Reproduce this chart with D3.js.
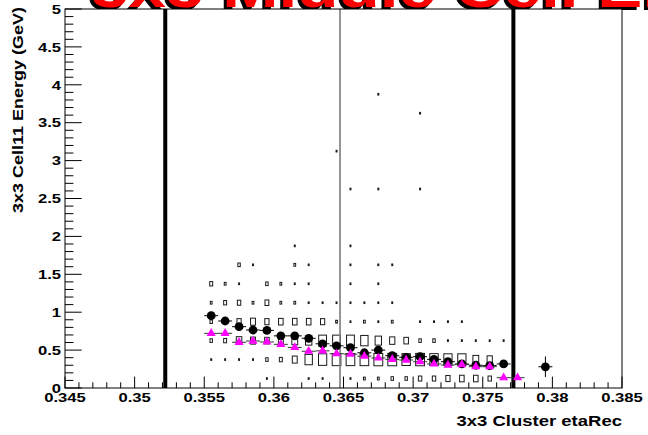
<!DOCTYPE html>
<html><head><meta charset="utf-8">
<script src="https://cdn.jsdelivr.net/npm/d3@7"></script>
<style>body{margin:0;background:#fff;overflow:hidden}svg{display:block}</style>
</head><body>
<script>
// ---------- data ----------
const xTickValues = [0.345,0.35,0.355,0.36,0.365,0.37,0.375,0.38,0.385];
const xTickLabels = ["0.345","0.35","0.355","0.36","0.365","0.37","0.375","0.38","0.385"];
const yTickValues = [0,0.5,1,1.5,2,2.5,3,3.5,4,4.5,5];
const yTickLabels = ["0","0.5","1","1.5","2","2.5","3","3.5","4","4.5","5"];

// 2D histogram bins (centres)
const xBinCenters = [0.3555,0.3565,0.3575,0.3585,0.3595,0.3605,0.3615,0.3625,0.3635,0.3645,
                     0.3655,0.3665,0.3675,0.3685,0.3695,0.3705,0.3715,0.3725,0.3735,0.3745,
                     0.3755,0.3765,0.3775,0.3785,0.3795];
const yBinCenters = [0.125,0.375,0.625,0.875,1.125,1.375,1.625,1.875,2.125,2.375,2.625,2.875,3.125,3.375,3.625,3.875];
const binCounts = [
  [0,0,0,0,1,0,0,1,1,0,1,2,2,3,3,5,5,7,8,8,5,0,0,0,0],
  [1,1,1,1,3,4,9,18,22,24,24,24,25,25,23,25,23,22,22,12,10,0,0,0,0],
  [3,4,11,9,8,9,12,14,20,20,20,18,14,10,8,3,3,1,1,1,1,1,0,0,0],
  [3,3,7,9,7,8,8,8,7,2,1,2,1,2,0,1,1,1,1,0,0,0,0,0,0],
  [2,4,5,2,6,2,2,1,1,1,1,1,1,1,0,0,0,0,0,0,0,0,0,0,0],
  [4,2,1,0,3,2,1,1,0,0,1,0,1,0,0,0,0,0,0,0,0,0,0,0,0],
  [0,0,3,1,0,0,2,1,0,0,1,0,1,1,0,0,0,0,0,0,0,0,0,0,0],
  [0,0,0,0,0,0,1,0,0,0,1,0,0,0,0,0,0,0,0,0,0,0,0,0,0],
  [0,0,0,0,0,0,0,0,0,0,0,0,0,0,0,0,0,0,0,0,0,0,0,0,0],
  [0,0,0,0,0,0,0,0,0,0,0,0,0,0,0,0,0,0,0,0,0,0,0,0,0],
  [0,0,0,0,0,0,0,0,0,0,1,0,1,0,0,1,0,0,0,0,0,0,0,0,0],
  [0,0,0,0,0,0,0,0,0,0,0,0,0,0,0,0,0,0,0,0,0,0,0,0,0],
  [0,0,0,0,0,0,0,0,0,1,0,0,0,0,0,0,0,0,0,0,0,0,0,0,0],
  [0,0,0,0,0,0,0,0,0,0,0,0,0,0,0,0,0,0,0,0,0,0,0,0,0],
  [0,0,0,0,0,0,0,0,0,0,0,0,0,0,0,1,0,0,0,0,0,0,0,0,0],
  [0,0,0,0,0,0,0,0,0,0,0,0,1,0,0,0,0,0,0,0,0,0,0,0,0]
];

// profile (black circles)
const profileX = [0.3555,0.3565,0.3575,0.3585,0.3595,0.3605,0.3615,0.3625,0.3635,0.3645,
                  0.3655,0.3665,0.3675,0.3685,0.3695,0.3705,0.3715,0.3725,0.3735,0.3745,
                  0.3755,0.3765,0.3795];
const profileY = [0.954,0.884,0.809,0.765,0.760,0.688,0.688,0.656,0.583,0.556,
                  0.532,0.465,0.500,0.426,0.405,0.413,0.378,0.347,0.317,0.300,
                  0.295,0.317,0.280];
const profileErr = [0.05,0.04,0.04,0.03,0.03,0.03,0.03,0.03,0.03,0.03,
                    0.03,0.03,0.03,0.02,0.02,0.02,0.02,0.02,0.02,0.02,
                    0.03,0.04,0.136];

// second profile (magenta triangles)
const triX = [0.3555,0.3565,0.3575,0.3585,0.3595,0.3605,0.3615,0.3625,0.3635,0.3645,
              0.3655,0.3665,0.3675,0.3685,0.3695,0.3705,0.3715,0.3725,0.3735,0.3745,
              0.3755,0.3765,0.3775];
const triY = [0.721,0.721,0.603,0.620,0.607,0.576,0.535,0.485,0.490,0.453,
              0.447,0.420,0.396,0.378,0.369,0.347,0.317,0.303,0.310,0.281,
              0.281,0.136,0.136];

const cutLines = [0.3522, 0.3772];
const midLines = [0.36475];
const binWidthX = 0.001, binWidthY = 0.25;

// ---------- drawing ----------
const W = 648, H = 435;
const fr = {l:65, r:622, t:9, b:388};
const svg = d3.select("body").append("svg").attr("width", W).attr("height", H);

const x = d3.scaleLinear().domain([0.345, 0.385]).range([fr.l, fr.r]);
const y = d3.scaleLinear().domain([0, 5]).range([fr.b, fr.t]);
const sz = d3.scaleSqrt().domain([0, 50]).range([0, 1]);
const SX = 1.25; // horizontal font stretch
const FONT = "'Liberation Sans', Arial, Helvetica, sans-serif";

// title (shadowed)
const titleText = "3x3 Middle Cell Energy vs etaRec";
svg.append("text").attr("transform", `translate(${91-3},${7+3}) scale(${SX},1)`)
  .attr("font-family", FONT).attr("font-weight", "bold").attr("font-size", 54)
  .attr("fill", "#000").text(titleText);
svg.append("text").attr("transform", `translate(91,7) scale(${SX},1)`)
  .attr("font-family", FONT).attr("font-weight", "bold").attr("font-size", 54)
  .attr("fill", "#ff0000").text(titleText);

// frame background
svg.append("rect").attr("x", fr.l).attr("y", fr.t).attr("width", fr.r-fr.l).attr("height", fr.b-fr.t)
  .attr("fill", "#fff");

// boxes
const cells = [];
binCounts.forEach((row, j) => row.forEach((c, i) => { if (c > 0) cells.push({xc: xBinCenters[i], yc: yBinCenters[j], c}); }));
const bw = x(0.345 + binWidthX) - x(0.345), bh = y(0) - y(binWidthY);
svg.append("g").selectAll("rect").data(cells).join("rect")
  .attr("x", d => x(d.xc) - sz(d.c)*bw/2 + 0.5)
  .attr("y", d => y(d.yc) - sz(d.c)*bh/2 + 0.5)
  .attr("width", d => Math.max(0.6, sz(d.c)*bw - 1))
  .attr("height", d => Math.max(0.6, sz(d.c)*bh - 1))
  .attr("fill", "none").attr("stroke", "#1a1a1a").attr("stroke-width", 1);

// vertical lines
svg.append("g").selectAll("line").data(midLines).join("line")
  .attr("x1", d => x(d)).attr("x2", d => x(d)).attr("y1", y(5)).attr("y2", y(0))
  .attr("stroke", "#7a7a7a").attr("stroke-width", 1.6);
svg.append("g").selectAll("line").data(cutLines).join("line")
  .attr("x1", d => x(d)).attr("x2", d => x(d)).attr("y1", y(5)).attr("y2", y(0))
  .attr("stroke", "#000").attr("stroke-width", 4);

// profile error bars + circles
const prof = profileX.map((v, k) => ({x: v, y: profileY[k], e: profileErr[k]}));
const gp = svg.append("g");
gp.selectAll("line.h").data(prof).join("line").attr("class", "h")
  .attr("x1", d => x(d.x - binWidthX/2)).attr("x2", d => x(d.x + binWidthX/2))
  .attr("y1", d => y(d.y)).attr("y2", d => y(d.y)).attr("stroke", "#000").attr("stroke-width", 1);
gp.selectAll("line.v").data(prof).join("line").attr("class", "v")
  .attr("x1", d => x(d.x)).attr("x2", d => x(d.x))
  .attr("y1", d => y(d.y - d.e)).attr("y2", d => y(d.y + d.e)).attr("stroke", "#000").attr("stroke-width", 1);
gp.selectAll("circle").data(prof).join("circle")
  .attr("cx", d => x(d.x)).attr("cy", d => y(d.y)).attr("r", 4.4).attr("fill", "#000");

// triangles
const tri = triX.map((v, k) => ({x: v, y: triY[k]}));
const gt = svg.append("g");
gt.selectAll("line").data(tri).join("line")
  .attr("x1", d => x(d.x - binWidthX/2)).attr("x2", d => x(d.x + binWidthX/2))
  .attr("y1", d => y(d.y)).attr("y2", d => y(d.y)).attr("stroke", "#333").attr("stroke-width", 1);
const triSym = d3.symbol().type(d3.symbolTriangle).size(36);
gt.selectAll("path").data(tri).join("path")
  .attr("transform", d => `translate(${x(d.x)},${y(d.y)})`)
  .attr("d", triSym).attr("fill", "#ff00ff");

// frame
svg.append("rect").attr("x", fr.l).attr("y", fr.t).attr("width", fr.r-fr.l).attr("height", fr.b-fr.t)
  .attr("fill", "none").attr("stroke", "#000").attr("stroke-width", 1);

// axis ticks
const xMinor = d3.range(0, 41).map(k => 0.345 + k*0.001);
svg.append("g").selectAll("line").data(xMinor).join("line")
  .attr("x1", d => x(d)).attr("x2", d => x(d))
  .attr("y1", fr.b).attr("y2", (d, k) => fr.b - (k % 5 === 0 ? 11.4 : 5.7))
  .attr("stroke", "#000").attr("stroke-width", 1);
const yMinor = d3.range(0, 51).map(k => k*0.1);
svg.append("g").selectAll("line").data(yMinor).join("line")
  .attr("y1", d => y(d)).attr("y2", d => y(d))
  .attr("x1", fr.l).attr("x2", (d, k) => fr.l + (k % 5 === 0 ? 16.7 : 8.4))
  .attr("stroke", "#000").attr("stroke-width", 1);

// tick labels
svg.append("g").selectAll("text").data(xTickValues).join("text")
  .attr("transform", d => `translate(${x(d)},402) scale(${SX},1)`)
  .attr("text-anchor", "middle").attr("font-family", FONT).attr("font-weight", "bold")
  .attr("font-size", 13.3).attr("fill", "#000").text((d, k) => xTickLabels[k]);
svg.append("g").selectAll("text").data(yTickValues).join("text")
  .attr("transform", d => `translate(61,${y(d) + 4.7}) scale(${SX},1)`)
  .attr("text-anchor", "end").attr("font-family", FONT).attr("font-weight", "bold")
  .attr("font-size", 13.3).attr("fill", "#000").text((d, k) => yTickLabels[k]);

// axis titles
svg.append("text").attr("transform", `translate(622,426) scale(${SX},1)`)
  .attr("text-anchor", "end").attr("font-family", FONT).attr("font-weight", "bold")
  .attr("font-size", 14.8).attr("fill", "#000").text("3x3 Cluster etaRec");
svg.append("text").attr("transform", `translate(23,7) rotate(-90) scale(${SX},1)`)
  .attr("text-anchor", "end").attr("font-family", FONT).attr("font-weight", "bold")
  .attr("font-size", 14.4).attr("fill", "#000").text("3x3 Cell11 Energy (GeV)");
</script>
</body></html>
